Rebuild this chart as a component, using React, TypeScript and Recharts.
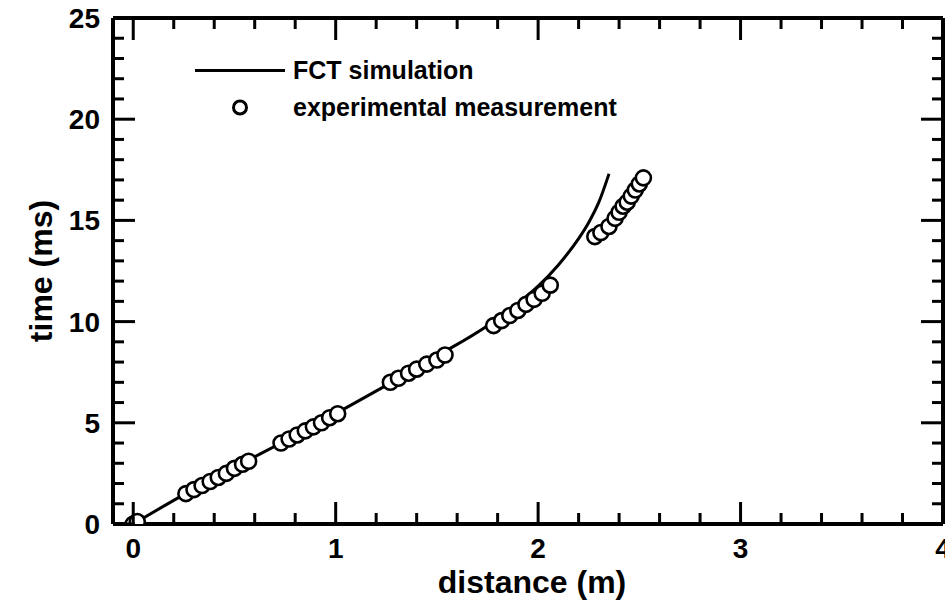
import { ComposedChart, Line, Scatter, XAxis, YAxis, Legend } from 'recharts';

const FONT = '"Liberation Sans", Arial, Helvetica, sans-serif';

// FCT simulation curve, distance (m) vs time (ms)
const simDistance = [0, 0.25, 0.5, 0.75, 1.0, 1.25, 1.5, 1.75, 1.9, 2.0, 2.1, 2.2, 2.25, 2.3, 2.35];
const simTime = [0, 1.45, 2.8, 4.1, 5.45, 6.85, 8.3, 9.8, 10.9, 11.75, 12.8, 14.1, 14.9, 15.9, 17.3];

// experimental measurement points
const expDistance = [
  0.0, 0.02,
  0.26, 0.30, 0.34, 0.38, 0.42, 0.46, 0.50, 0.54, 0.57,
  0.73, 0.77, 0.81, 0.85, 0.89, 0.93, 0.97, 1.01,
  1.27, 1.31, 1.36, 1.40, 1.45, 1.50, 1.54,
  1.78, 1.82, 1.86, 1.90, 1.94, 1.98, 2.02, 2.06,
  2.28, 2.31, 2.35, 2.38, 2.40, 2.42, 2.44, 2.46, 2.48, 2.50, 2.52,
];
const expTime = [
  0.0, 0.12,
  1.5, 1.7, 1.9, 2.1, 2.3, 2.5, 2.75, 2.95, 3.1,
  4.0, 4.2, 4.4, 4.6, 4.8, 5.0, 5.25, 5.45,
  7.0, 7.2, 7.45, 7.65, 7.9, 8.1, 8.35,
  9.8, 10.05, 10.3, 10.55, 10.85, 11.1, 11.4, 11.8,
  14.2, 14.4, 14.7, 15.1, 15.4, 15.7, 15.9, 16.2, 16.5, 16.8, 17.1,
];

const xTicks = [0, 0.2, 0.4, 0.6, 0.8, 1, 1.2, 1.4, 1.6, 1.8, 2, 2.2, 2.4, 2.6, 2.8, 3, 3.2, 3.4, 3.6, 3.8, 4];
const yTicks = [0, 1, 2, 3, 4, 5, 6, 7, 8, 9, 10, 11, 12, 13, 14, 15, 16, 17, 18, 19, 20, 21, 22, 23, 24, 25];

const simData = simDistance.map((x, i) => ({ x, t: simTime[i] }));
const expData = expDistance.map((x, i) => ({ x, t: expTime[i] }));

const isMajor = (v: number, step: number) => Math.abs(v / step - Math.round(v / step)) < 1e-6;
const MAJOR = 22;
const MINOR = 11;

function BottomTick(props: any) {
  const { x, y, payload } = props;
  const major = isMajor(payload.value, 1);
  return (
    <g>
      <line x1={x} x2={x} y1={y} y2={y - (major ? MAJOR : MINOR)} stroke="#000" strokeWidth={3} />
      {major && (
        <text x={x} y={y + 34} textAnchor="middle" fontSize={28} fontWeight="bold" fontFamily={FONT} fill="#000">
          {payload.value}
        </text>
      )}
    </g>
  );
}

function TopTick(props: any) {
  const { x, y, payload } = props;
  const major = isMajor(payload.value, 1);
  return <line x1={x} x2={x} y1={y} y2={y + (major ? MAJOR : MINOR)} stroke="#000" strokeWidth={3} />;
}

function LeftTick(props: any) {
  const { x, y, payload } = props;
  const major = isMajor(payload.value, 5);
  return (
    <g>
      <line x1={x} x2={x + (major ? MAJOR : MINOR)} y1={y} y2={y} stroke="#000" strokeWidth={3} />
      {major && (
        <text x={x - 13} y={y + 10} textAnchor="end" fontSize={28} fontWeight="bold" fontFamily={FONT} fill="#000">
          {payload.value}
        </text>
      )}
    </g>
  );
}

function RightTick(props: any) {
  const { x, y, payload } = props;
  const major = isMajor(payload.value, 5);
  return <line x1={x} x2={x - (major ? MAJOR : MINOR)} y1={y} y2={y} stroke="#000" strokeWidth={3} />;
}

function Dot(props: any) {
  const { cx, cy } = props;
  return <circle cx={cx} cy={cy} r={7.5} fill="#fff" stroke="#000" strokeWidth={2.6} />;
}

function LegendBox() {
  const row = { display: 'flex', alignItems: 'center', height: 37 } as const;
  const label = { fontFamily: FONT, fontWeight: 'bold', fontSize: 25, color: '#000' } as const;
  return (
    <div>
      <div style={row}>
        <svg width={98} height={37}>
          <line x1={0} x2={90} y1={18.5} y2={18.5} stroke="#000" strokeWidth={3} />
        </svg>
        <span style={label}>FCT simulation</span>
      </div>
      <div style={row}>
        <svg width={98} height={37}>
          <circle cx={45} cy={18.5} r={6.5} fill="#fff" stroke="#000" strokeWidth={3} />
        </svg>
        <span style={label}>experimental measurement</span>
      </div>
    </div>
  );
}

function XTitle(props: any) {
  const { viewBox } = props;
  return (
    <text x={viewBox.x + viewBox.width / 2 + 4} y={viewBox.y + 69} textAnchor="middle" fontSize={32} fontWeight="bold" fontFamily={FONT} fill="#000">
      distance (m)
    </text>
  );
}

function YTitle(props: any) {
  const { viewBox } = props;
  const cx = 41;
  const cy = viewBox.y + viewBox.height / 2;
  return (
    <text x={cx} y={cy} transform={`rotate(-90, ${cx}, ${cy})`} textAnchor="middle" dominantBaseline="central" fontSize={32} fontWeight="bold" fontFamily={FONT} fill="#000">
      time (ms)
    </text>
  );
}

export default function App() {
  return (
    <div style={{ position: 'absolute', left: 0, top: 0, width: 945, height: 603, background: '#fff' }}>
      <ComposedChart width={945} height={603} margin={{ top: 17, right: 1, bottom: 0, left: 0 }}>
        <XAxis
          xAxisId="b"
          dataKey="x"
          type="number"
          orientation="bottom"
          domain={[-0.1, 4]}
          ticks={xTicks}
          interval={0}
          allowDataOverflow
          height={79}
          tickSize={0}
          tickMargin={0}
          tick={<BottomTick />}
          axisLine={{ stroke: '#000', strokeWidth: 4 }}
          label={{ content: <XTitle /> }}
        />
        <XAxis
          xAxisId="t"
          dataKey="x"
          type="number"
          orientation="top"
          domain={[-0.1, 4]}
          ticks={xTicks}
          interval={0}
          allowDataOverflow
          height={1}
          tickSize={0}
          tickMargin={0}
          tick={<TopTick />}
          axisLine={{ stroke: '#000', strokeWidth: 4 }}
        />
        <YAxis
          yAxisId="l"
          dataKey="t"
          type="number"
          orientation="left"
          domain={[0, 25]}
          ticks={yTicks}
          interval={0}
          allowDataOverflow
          width={113}
          tickSize={0}
          tickMargin={0}
          tick={<LeftTick />}
          axisLine={{ stroke: '#000', strokeWidth: 4 }}
          label={{ content: <YTitle /> }}
        />
        <YAxis
          yAxisId="r"
          dataKey="t"
          type="number"
          orientation="right"
          domain={[0, 25]}
          ticks={yTicks}
          interval={0}
          allowDataOverflow
          width={1}
          tickSize={0}
          tickMargin={0}
          tick={<RightTick />}
          axisLine={{ stroke: '#000', strokeWidth: 4 }}
        />
        <Legend
          layout="vertical"
          align="center"
          verticalAlign="middle"
          content={<LegendBox />}
          wrapperStyle={{ position: 'absolute', left: 195, top: 52, bottom: 'auto', width: 'auto' }}
        />
        <Line
          xAxisId="b"
          yAxisId="l"
          data={simData}
          dataKey="t"
          type="monotone"
          stroke="#000"
          strokeWidth={3}
          dot={false}
          activeDot={false}
          isAnimationActive={false}
          legendType="line"
          name="FCT simulation"
        />
        <Scatter
          xAxisId="b"
          yAxisId="l"
          data={expData}
          dataKey="t"
          shape={<Dot />}
          isAnimationActive={false}
          name="experimental measurement"
        />
      </ComposedChart>
    </div>
  );
}
